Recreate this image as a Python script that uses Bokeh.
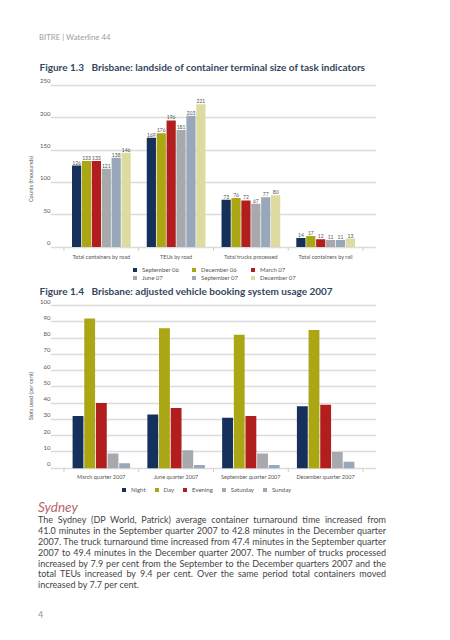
from bokeh.plotting import figure
from bokeh.models import (FactorRange, Range1d, Legend, LegendItem, Div, FixedTicker,
                          ColumnDataSource, LinearAxis)
from bokeh.transform import dodge
from bokeh.layouts import column
from bokeh.embed import file_html
from bokeh.resources import INLINE
from bokeh.core.properties import value

FONT = "Lato"

# ---------------- Figure 1.3 data ----------------
groups13 = ["Total containers by road", "TEUs by road", "Total trucks processed", "Total containers by rail"]
series13 = ["September 06", "December 06", "March 07", "June 07", "September 07", "December 07"]
sep06 = [126, 169, 73, 14]
dec06 = [133, 176, 76, 17]
mar07 = [133, 196, 72, 12]
jun07 = [121, 181, 67, 11]
sep07 = [138, 203, 77, 11]
dec07 = [146, 221, 80, 13]
yticks13 = [0, 50, 100, 150, 200, 250]

# ---------------- Figure 1.4 data ----------------
quarters14 = ["March quarter 2007", "June quarter 2007", "September quarter 2007", "December quarter 2007"]
series14 = ["Night", "Day", "Evening", "Saturday", "Sunday"]
night = [32, 33, 31, 38]
day = [92, 86, 82, 85]
evening = [40, 37, 32, 39]
saturday = [9, 11, 9, 10]
sunday = [3, 2, 2, 4]
yticks14 = [0, 10, 20, 30, 40, 50, 60, 70, 80, 90, 100]

NAVY, OLIVE, RED, GREY, BLUEGREY, PALE = "#15305a", "#aaa614", "#b21e1e", "#a7a9ac", "#98a7b9", "#dedba1"
colors13 = [NAVY, OLIVE, RED, GREY, BLUEGREY, PALE]
colors14 = [NAVY, OLIVE, RED, GREY, BLUEGREY]

GRID = "#dcdcdc"
TXT = "#555555"
TITLE_C = "#34465e"
PAD = 0.18  # category range padding per side


def make_chart(title, groups, names, values, colors, ystart, yend, yticks, label_shift, ylabel,
               stride, bar_w, frame_h, top, title_standoff, xaxis_y, tick_len,
               ncols, label_w, leg_spacing, leg_loc, show_values):
    p = figure(x_range=FactorRange(*groups, range_padding=PAD, range_padding_units="absolute"),
               y_range=Range1d(ystart, yend), frame_width=326, frame_height=frame_h,
               output_backend="svg", toolbar_location=None,
               min_border_left=50, min_border_right=74, min_border_top=top, min_border_bottom=0)
    p.outline_line_color = None
    p.background_fill_color = None
    p.border_fill_color = None

    p.title.text = title
    p.title.text_font = FONT
    p.title.text_font_size = "10px"
    p.title.text_font_style = "bold"
    p.title.text_color = TITLE_C
    p.title.align = "left"
    p.title.offset = -11
    p.title.standoff = title_standoff

    p.xgrid.grid_line_color = None
    p.ygrid.ticker = FixedTicker(ticks=yticks)
    p.ygrid.grid_line_color = GRID
    p.ygrid.grid_line_width = 1.3

    # value axis: labels sit just above each gridline
    p.yaxis[0].visible = False
    p.extra_y_ranges = {"lbl": Range1d(ystart - label_shift, yend - label_shift)}
    ax = LinearAxis(y_range_name="lbl", ticker=FixedTicker(ticks=yticks))
    ax.axis_line_color = None
    ax.major_tick_line_color = None
    ax.minor_tick_line_color = None
    ax.major_tick_out = 0
    ax.major_tick_in = 0
    ax.minor_tick_out = 0
    ax.major_label_standoff = 0
    ax.major_label_text_font = FONT
    ax.major_label_text_font_size = "6px"
    ax.major_label_text_color = TXT
    ax.axis_label = ylabel
    ax.axis_label_text_font = FONT
    ax.axis_label_text_font_size = "5.5px"
    ax.axis_label_text_font_style = "normal"
    ax.axis_label_text_color = TXT
    ax.axis_label_standoff = 3
    p.add_layout(ax, "left")

    xa = p.xaxis[0]
    xa.fixed_location = xaxis_y
    xa.axis_line_color = None
    xa.major_tick_line_color = None
    xa.major_tick_out = 0
    xa.major_tick_in = 0
    xa.major_label_standoff = 0
    xa.major_label_text_font = FONT
    xa.major_label_text_font_size = "5.5px"
    xa.major_label_text_color = TXT

    # boundary ticks under the baseline
    bsrc = ColumnDataSource(dict(grp=groups, y0=[0] * len(groups), y1=[-tick_len] * len(groups)))
    p.segment(x0=dodge("grp", -0.5, range=p.x_range), x1=dodge("grp", -0.5, range=p.x_range),
              y0="y0", y1="y1", source=bsrc, line_color="#cfcfcf", line_width=1)
    esrc = ColumnDataSource(dict(grp=groups[-1:], y0=[0], y1=[-tick_len]))
    p.segment(x0=dodge("grp", 0.5, range=p.x_range), x1=dodge("grp", 0.5, range=p.x_range),
              y0="y0", y1="y1", source=esrc, line_color="#cfcfcf", line_width=1)

    n = len(names)
    items = []
    for i, (name, vals, col) in enumerate(zip(names, values, colors)):
        off = (i - (n - 1) / 2) * stride
        src = ColumnDataSource(dict(grp=groups, v=vals, lbl=[str(v) for v in vals]))
        r = p.vbar(x=dodge("grp", off, range=p.x_range), top="v", bottom=0, width=bar_w,
                   source=src, fill_color=col, line_color=None)
        if show_values:
            p.text(x=dodge("grp", off, range=p.x_range), y="v", text="lbl", source=src,
                   text_align="center", text_baseline="bottom", y_offset=-1,
                   text_font=value(FONT), text_font_size="5px", text_color=TXT)
        items.append(LegendItem(label=name, renderers=[r]))

    leg = Legend(items=items, orientation="horizontal", location=leg_loc)
    if ncols:
        leg.ncols = ncols
    leg.glyph_width = 5
    leg.glyph_height = 5
    leg.label_height = 7
    leg.label_width = label_w
    leg.label_standoff = 5
    leg.spacing = leg_spacing
    leg.padding = 0
    leg.margin = 0
    leg.border_line_color = None
    leg.background_fill_alpha = 0
    leg.label_text_font = FONT
    leg.label_text_font_size = "6px"
    leg.label_text_color = TXT
    p.add_layout(leg)
    return p


p13 = make_chart("Figure 1.3\u2003Brisbane: landside of container terminal size of task indicators",
                 groups13, series13, [sep06, dec06, mar07, jun07, sep07, dec07], colors13,
                 -53.4, 263.93, yticks13, 6.2, "Counts (thousands)",
                 0.1324, 0.123, 205, 28, 8, -10.7, 6.2,
                 3, 48, 1, (82, 0), True)

p14 = make_chart("Figure 1.4\u2003Brisbane: adjusted vehicle booking system usage 2007",
                 quarters14, series14, [night, day, evening, saturday, sunday], colors14,
                 -16.2, 104.92, yticks14, 2.46, "Slots used (per cent)",
                 0.156, 0.145, 197, 16, 2, -3.5, 2.64,
                 None, 5, 8, (71, 1), False)

header = Div(text=(
    "<div style=\"font-family:Lato;font-size:7.8px;color:#a0a0a0;line-height:10px;"
    "padding:32px 0 0 39px;\">BITRE | Waterline 44</div>"), width=450, height=48, margin=0)

lines = [
    "The Sydney (DP World, Patrick) average container turnaround time increased from",
    "41.0 minutes in the September quarter 2007 to 42.8 minutes in the December quarter",
    "2007. The truck turnaround time increased from 47.4 minutes in the September quarter",
    "2007 to 49.4 minutes in the December quarter 2007. The number of trucks processed",
    "increased by 7.9 per cent from the September to the December quarters 2007 and the",
    "total TEUs increased by 9.4 per cent. Over the same period total containers moved",
    "increased by 7.7 per cent.",
]
body = ""
for k, ln in enumerate(lines):
    last = k == len(lines) - 1
    if last:
        body += "<div style=\"height:10.9px;text-align:left;white-space:nowrap;\">%s</div>" % ln
    else:
        body += ("<div style=\"height:10.9px;overflow:hidden;text-align:justify;\">%s "
                 "<span style=\"display:inline-block;width:100%%;height:1px;\"></span></div>" % ln)

text_div = Div(text=(
    "<div style=\"font-family:Lato;padding:6px 0 0 38px;\">"
    "<div style=\"font-size:13.5px;font-style:italic;color:#b5656c;line-height:15px;height:15px;\">Sydney</div>"
    "<div style=\"font-size:9px;color:#444444;line-height:10.9px;width:348px;\">" + body + "</div>"
    "<div style=\"font-size:9px;color:#9a9a9a;line-height:12px;margin-top:18px;\">4</div>"
    "</div>"), width=450, height=146, margin=0)

layout = column(header, p13, p14, text_div)
open("out.html", "w").write(file_html(layout, INLINE))
